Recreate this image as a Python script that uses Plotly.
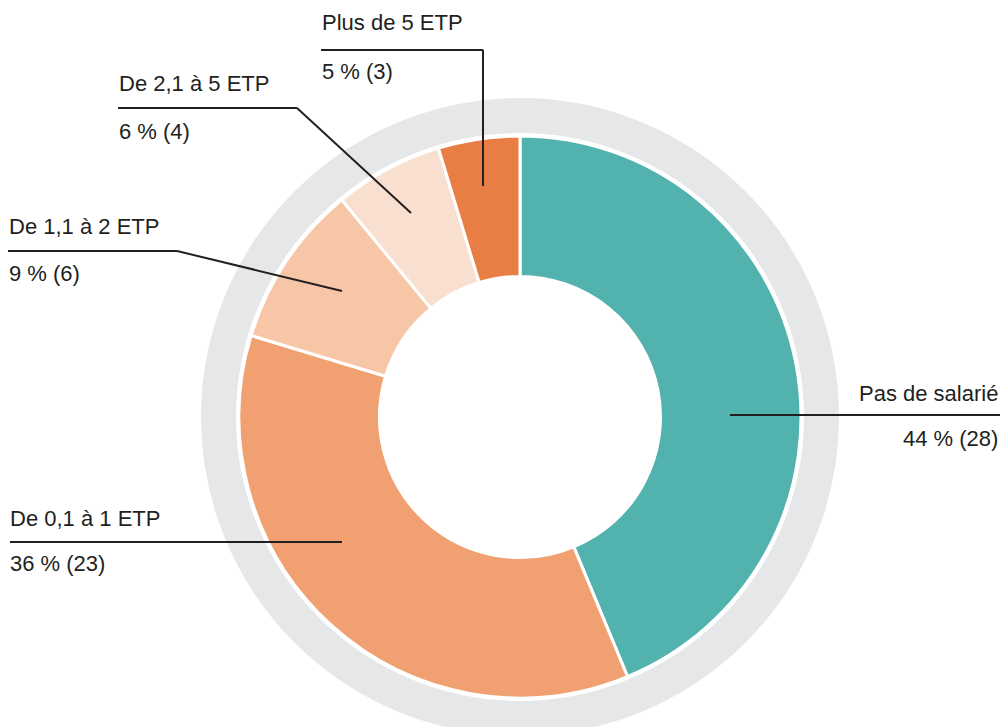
import plotly.graph_objects as go

# Répartition des structures selon l'effectif salarié (ETP)
categories = ["Pas de salarié", "De 0,1 à 1 ETP", "De 1,1 à 2 ETP", "De 2,1 à 5 ETP", "Plus de 5 ETP"]
counts = [28, 23, 6, 4, 3]
percent_labels = ["44 % (28)", "36 % (23)", "9 % (6)", "6 % (4)", "5 % (3)"]
colors = ["#52B2AE", "#F0A071", "#F6C6A7", "#F9DFCF", "#E97E44"]

W, H = 1003, 727
CX, CY = 520, 417          # centre of the ring, in pixels from top-left
R_OUT = 281                # outer radius of the coloured ring
HOLE = 0.50
GREY_IN, GREY_OUT = 284, 319

FONT = "Liberation Sans, Arial, Helvetica, sans-serif"
TEXT_COLOR = "#231F20"
FS = 22


def px(x):
    return x / W


def py(y):
    return 1 - y / H


fig = go.Figure()

fig.add_trace(go.Pie(
    labels=categories,
    values=counts,
    sort=False,
    direction="clockwise",
    rotation=0,
    hole=HOLE,
    marker=dict(colors=colors, line=dict(color="white", width=3)),
    textinfo="none",
    hoverinfo="label+percent+value",
    showlegend=False,
    domain=dict(x=[px(CX - R_OUT), px(CX + R_OUT)], y=[py(CY + R_OUT), py(CY - R_OUT)]),
))

shapes = []
# grey halo around the ring
r_mid = (GREY_IN + GREY_OUT) / 2
shapes.append(dict(
    type="circle", xref="paper", yref="paper", layer="below",
    x0=px(CX - r_mid), x1=px(CX + r_mid), y0=py(CY + r_mid), y1=py(CY - r_mid),
    line=dict(color="#E6E7E8", width=GREY_OUT - GREY_IN), fillcolor="rgba(0,0,0,0)",
))

# leader lines (pixel polylines) and label placement: x, name centre y, percentage centre y
leaders = {
    "Pas de salarié": dict(pts=[(730, 415), (1000, 415)], x=1000, ny=393, py_=439, align="right"),
    "De 0,1 à 1 ETP": dict(pts=[(10, 542), (342, 542)], x=8, ny=518, py_=563, align="left"),
    "De 1,1 à 2 ETP": dict(pts=[(8, 251), (177, 251), (342, 291)], x=7, ny=227, py_=273, align="left"),
    "De 2,1 à 5 ETP": dict(pts=[(118, 108), (297, 108), (411, 213)], x=117, ny=84, py_=131, align="left"),
    "Plus de 5 ETP": dict(pts=[(321, 50), (483, 50), (483, 186)], x=320, ny=23, py_=71, align="left"),
}

annotations = []
for name, pct in zip(categories, percent_labels):
    d = leaders[name]
    pts = d["pts"]
    for (x0, y0), (x1, y1) in zip(pts[:-1], pts[1:]):
        shapes.append(dict(
            type="line", xref="paper", yref="paper",
            x0=px(x0), y0=py(y0), x1=px(x1), y1=py(y1),
            line=dict(color=TEXT_COLOR, width=2),
        ))
    for txt, ty in ((name, d["ny"]), (pct, d["py_"])):
        annotations.append(dict(
            text=txt, xref="paper", yref="paper", x=px(d["x"]), y=py(ty),
            xanchor=d["align"], yanchor="middle", showarrow=False,
            font=dict(family=FONT, size=FS, color=TEXT_COLOR),
        ))

fig.update_layout(
    width=W, height=H,
    margin=dict(l=0, r=0, t=0, b=0),
    paper_bgcolor="white", plot_bgcolor="white",
    shapes=shapes,
    annotations=annotations,
)

fig.write_html("out.html")
